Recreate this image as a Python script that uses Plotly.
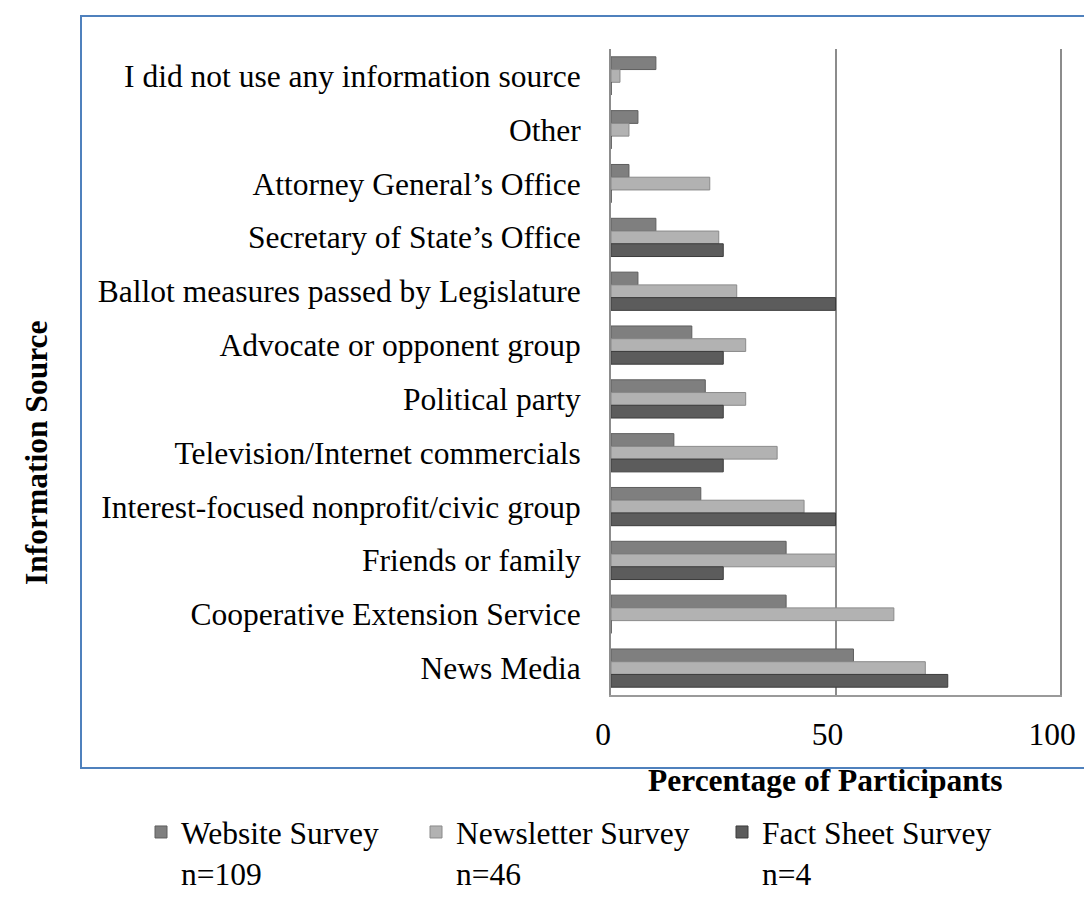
import plotly.graph_objects as go

# ---- data (top-to-bottom order as shown) ----
categories = [
    "I did not use any information source",
    "Other",
    "Attorney General’s Office",
    "Secretary of State’s Office",
    "Ballot measures passed by Legislature",
    "Advocate or opponent group",
    "Political party",
    "Television/Internet commercials",
    "Interest-focused nonprofit/civic group",
    "Friends or family",
    "Cooperative Extension Service",
    "News Media",
]
website = [10, 6, 4, 10, 6, 18, 21, 14, 20, 39, 39, 54]
newsletter = [2, 4, 22, 24, 28, 30, 30, 37, 43, 50, 63, 70]
factsheet = [0, 0, 0, 25, 50, 25, 25, 25, 50, 25, 0, 75]
series_names = ["Website Survey<br>n=109", "Newsletter Survey<br>n=46", "Fact Sheet Survey<br>n=4"]
x_ticks = [0, 50, 100]
x_title = "Percentage of Participants"
y_title = "Information Source"

# ---- layout geometry (pixels) ----
FIG_W, FIG_H = 1092, 902
L, R, T, B = 603, 1052, 41, 687
PW, PH = R - L, B - T

def px_x(px):
    return (px - L) / PW

def px_y(py):
    return (B - py) / PH

FONT = "Liberation Serif, Times New Roman, serif"
FS = 31.5

colors = ["#7f7f7f", "#b2b2b2", "#5c5c5c"]
edge = ["#5e5e5e", "#8a8a8a", "#3c3c3c"]
legend_ids = ["legend", "legend2", "legend3"]
legend_x_px = [133, 408, 714]
LEGEND_TOP_PX = 797

fig = go.Figure()
for name, vals, c, e, lg in zip(series_names, [website, newsletter, factsheet], colors, edge, legend_ids):
    fig.add_trace(go.Bar(
        y=categories, x=vals, name=name, orientation="h",
        marker=dict(color=c, line=dict(color=e, width=1)),
        legend=lg,
    ))

def legend_cfg(xpx):
    return dict(
        orientation="h", xref="container", yref="container",
        x=xpx / FIG_W, y=1 - LEGEND_TOP_PX / FIG_H, xanchor="left", yanchor="top",
        font=dict(family=FONT, size=FS, color="black"),
        valign="top", bgcolor="rgba(0,0,0,0)",
    )

fig.update_layout(
    width=FIG_W, height=FIG_H,
    margin=dict(l=L, r=FIG_W - R, t=T, b=FIG_H - B, autoexpand=False),
    paper_bgcolor="white", plot_bgcolor="white",
    font=dict(family=FONT, size=FS, color="black"),
    barmode="group", bargap=0.29, bargroupgap=0,
    showlegend=True,
    legend=legend_cfg(legend_x_px[0]),
    legend2=legend_cfg(legend_x_px[1]),
    legend3=legend_cfg(legend_x_px[2]),
    xaxis=dict(
        range=[0, 100], tickvals=x_ticks, ticktext=[str(v) for v in x_ticks],
        showgrid=True, gridcolor="#8c8c8c", gridwidth=2,
        zeroline=False, showline=True, linecolor="#9a9a9a", linewidth=2,
        ticks="outside", ticklen=10, tickcolor="rgba(0,0,0,0)",
        ticklabelshift=-8,
        tickfont=dict(family=FONT, size=FS, color="black"),
    ),
    yaxis=dict(
        categoryorder="array", categoryarray=categories, autorange="reversed",
        showgrid=False, zeroline=False,
        showline=True, mirror=True, linecolor="#8c8c8c", linewidth=2,
        ticks="outside", ticklen=22, tickcolor="rgba(0,0,0,0)",
        tickfont=dict(family=FONT, size=FS, color="black"),
    ),
    annotations=[
        dict(text=f"<b>{y_title}</b>", xref="paper", yref="paper",
             x=px_x(28), y=px_y(445), showarrow=False, textangle=-90,
             xanchor="center", yanchor="middle",
             font=dict(family=FONT, size=FS, color="black")),
        dict(text=f"<b>{x_title}</b>", xref="paper", yref="paper",
             x=px_x(817), y=px_y(772), showarrow=False,
             xanchor="center", yanchor="middle",
             font=dict(family=FONT, size=FS, color="black")),
    ],
    shapes=[
        dict(type="rect", xref="paper", yref="paper",
             x0=px_x(73), x1=px_x(1110), y0=px_y(760), y1=px_y(8),
             line=dict(color="#4f81bd", width=2), fillcolor="rgba(0,0,0,0)",
             layer="below"),
    ],
)

fig.write_html("out.html")
